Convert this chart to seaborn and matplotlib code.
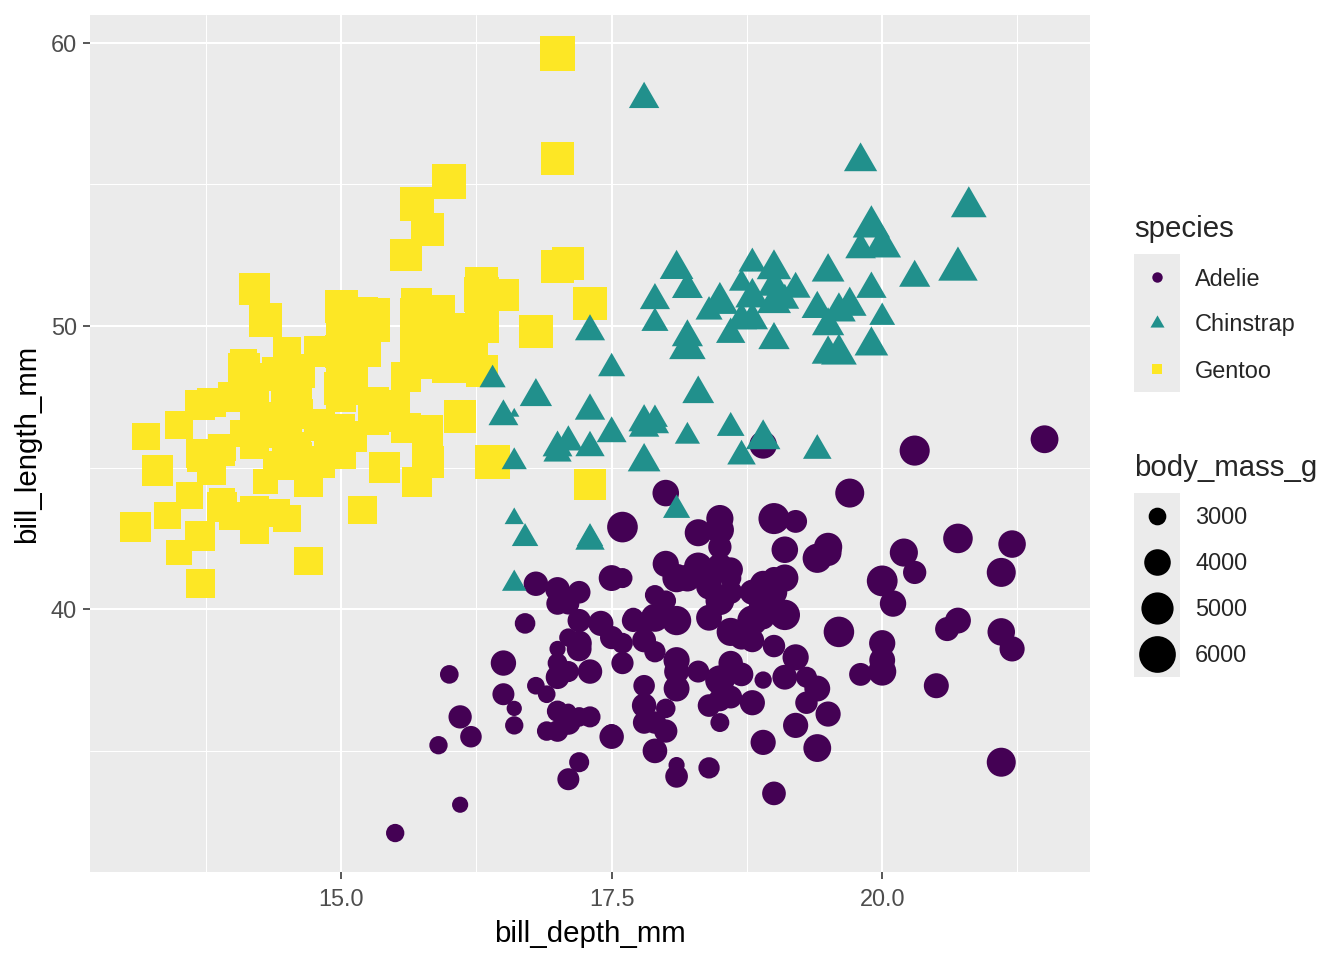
import numpy as np
import pandas as pd
import matplotlib
matplotlib.use("Agg")
import matplotlib.pyplot as plt
import seaborn as sns
from matplotlib.path import Path
from matplotlib.patches import Rectangle

# Data (rows in drawing order)
adelie_length = [
    39.1, 39.5, 40.3, 36.7, 39.3, 38.9, 39.2, 34.1, 42.0, 37.8,
    37.8, 41.1, 38.6, 34.6, 36.6, 38.7, 42.5, 34.4, 46.0, 37.8,
    37.7, 35.9, 38.2, 38.8, 35.3, 40.6, 40.5, 37.9, 40.5, 39.5,
    37.2, 39.5, 40.9, 36.4, 39.2, 38.8, 42.2, 37.6, 39.8, 36.5,
    40.8, 36.0, 44.1, 37.0, 39.6, 41.1, 37.5, 36.0, 42.3, 39.6,
    40.1, 35.0, 42.0, 34.5, 41.4, 39.0, 40.6, 36.5, 37.6, 35.7,
    41.3, 37.6, 41.1, 36.4, 41.6, 35.5, 41.1, 35.9, 41.8, 33.5,
    39.7, 39.6, 45.8, 35.5, 42.8, 40.9, 37.2, 36.2, 42.1, 34.6,
    42.9, 36.7, 35.1, 37.3, 41.3, 36.3, 36.9, 38.3, 38.9, 35.7,
    41.1, 34.0, 39.6, 36.2, 40.8, 38.1, 40.3, 33.1, 43.2, 35.0,
    41.0, 37.7, 37.8, 37.9, 39.7, 38.6, 38.2, 38.1, 43.2, 38.1,
    45.6, 39.7, 42.2, 39.6, 42.7, 38.6, 37.3, 35.7, 41.1, 36.2,
    37.7, 40.2, 41.4, 35.2, 40.6, 38.8, 41.5, 39.0, 44.1, 38.5,
    43.1, 36.8, 37.5, 38.1, 41.1, 35.6, 40.2, 37.0, 39.7, 40.2,
    40.6, 32.1, 40.7, 37.3, 39.0, 39.2, 36.6, 36.0, 37.8, 36.0,
    41.5]
adelie_depth = [
    18.7, 17.4, 18.0, 19.3, 20.6, 17.8, 19.6, 18.1, 20.2, 17.1,
    17.3, 17.6, 21.2, 21.1, 17.8, 19.0, 20.7, 18.4, 21.5, 18.3,
    18.7, 19.2, 18.1, 17.2, 18.9, 18.6, 17.9, 18.6, 18.9, 16.7,
    18.1, 17.8, 18.9, 17.0, 21.1, 20.0, 18.5, 19.3, 19.1, 18.0,
    18.4, 18.5, 19.7, 16.9, 18.8, 19.0, 18.9, 17.9, 21.2, 17.7,
    18.9, 17.9, 19.5, 18.1, 18.6, 17.5, 18.8, 16.6, 19.1, 16.9,
    21.1, 17.0, 18.2, 17.1, 18.0, 16.2, 19.1, 16.6, 19.4, 19.0,
    18.4, 17.2, 18.9, 17.5, 18.5, 16.8, 19.4, 16.1, 19.1, 17.2,
    17.6, 18.8, 19.4, 17.8, 20.3, 19.5, 18.6, 19.2, 18.8, 18.0,
    18.1, 17.1, 18.1, 17.3, 18.9, 18.6, 18.5, 16.1, 18.5, 17.9,
    20.0, 16.0, 20.0, 18.6, 18.9, 17.2, 20.0, 17.0, 19.0, 16.5,
    20.3, 17.7, 19.5, 20.7, 18.3, 17.0, 20.5, 17.0, 18.6, 17.2,
    19.8, 17.0, 18.5, 15.9, 19.0, 17.6, 18.3, 17.1, 18.0, 17.9,
    19.2, 18.5, 18.5, 17.6, 17.5, 17.5, 20.1, 16.5, 17.9, 17.1,
    17.2, 15.5, 17.0, 16.8, 18.7, 18.6, 18.4, 17.8, 18.1, 17.1,
    18.5]
adelie_mass = [
    3750, 3800, 3250, 3450, 3650, 3625, 4675, 3475, 4250, 3300,
    3700, 3200, 3800, 4400, 3700, 3450, 4500, 3325, 4200, 3400,
    3600, 3800, 3950, 3800, 3800, 3550, 3200, 3150, 3950, 3250,
    3900, 3300, 3900, 3325, 4150, 3950, 3550, 3300, 4650, 3150,
    3900, 3100, 4400, 3000, 4600, 3425, 2975, 3450, 4150, 3500,
    4300, 3450, 4050, 2900, 3700, 3550, 3800, 2850, 3750, 3150,
    4400, 3600, 4050, 2850, 3950, 3350, 4100, 3050, 4450, 3600,
    3900, 3550, 4150, 3700, 4250, 3700, 3900, 3550, 4000, 3200,
    4700, 3800, 4200, 3350, 3550, 3800, 3500, 3950, 3600, 3550,
    4300, 3400, 4450, 3300, 4300, 3700, 4350, 2900, 4100, 3725,
    4725, 3075, 4250, 2925, 3550, 3750, 3900, 3175, 4775, 3825,
    4600, 3200, 4275, 3900, 4075, 2900, 3775, 3350, 3325, 3150,
    3500, 3450, 3875, 3050, 4000, 3275, 4300, 3050, 4000, 3325,
    3500, 3500, 4475, 3425, 3900, 3175, 3975, 3400, 4250, 3400,
    3475, 3050, 3725, 3000, 3650, 4250, 3475, 3450, 3750, 3700,
    4000]

gentoo_length = [
    46.1, 50.0, 48.7, 50.0, 47.6, 46.5, 45.4, 46.7, 43.3, 46.8,
    40.9, 49.0, 45.5, 48.4, 45.8, 49.3, 42.0, 49.2, 46.2, 48.7,
    50.2, 45.1, 46.5, 46.3, 42.9, 46.1, 44.5, 47.8, 48.2, 50.0,
    47.3, 42.8, 45.1, 59.6, 49.1, 48.4, 42.6, 44.4, 44.0, 48.7,
    42.7, 49.6, 45.3, 49.6, 50.5, 43.6, 45.5, 50.5, 44.9, 45.2,
    46.6, 48.5, 45.1, 50.1, 46.5, 45.0, 43.8, 45.5, 43.2, 50.4,
    45.3, 46.2, 45.7, 54.3, 45.8, 49.8, 46.2, 49.5, 43.5, 50.7,
    47.7, 46.4, 48.2, 46.5, 46.4, 48.6, 47.5, 51.1, 45.2, 45.2,
    49.1, 52.5, 47.4, 50.0, 44.9, 50.8, 43.4, 51.3, 47.5, 52.1,
    47.5, 52.2, 45.5, 49.5, 44.5, 50.8, 49.4, 46.9, 48.4, 51.1,
    48.5, 55.9, 47.2, 49.1, 47.3, 46.8, 41.7, 53.4, 43.3, 48.1,
    50.5, 49.8, 43.5, 51.5, 46.2, 55.1, 44.5, 48.8, 47.2, 46.8,
    50.4, 45.2, 49.9]
gentoo_depth = [
    13.2, 16.3, 14.1, 15.2, 14.5, 13.5, 14.6, 15.3, 13.4, 15.4,
    13.7, 16.1, 13.7, 14.6, 14.6, 15.7, 13.5, 15.2, 14.5, 15.1,
    14.3, 14.5, 14.5, 15.8, 13.1, 15.1, 14.3, 15.0, 14.3, 15.3,
    15.3, 14.2, 14.5, 17.0, 14.8, 16.3, 13.7, 17.3, 13.6, 15.7,
    13.7, 16.0, 13.7, 15.0, 15.9, 13.9, 13.9, 15.9, 13.3, 15.8,
    14.2, 14.1, 14.4, 15.0, 14.4, 15.4, 13.9, 15.0, 14.5, 15.3,
    13.8, 14.9, 13.9, 15.7, 14.2, 16.8, 14.4, 16.2, 14.2, 15.0,
    15.0, 15.6, 15.6, 14.8, 15.0, 16.0, 14.2, 16.3, 13.8, 16.4,
    14.5, 15.6, 14.6, 15.9, 13.8, 17.3, 14.4, 14.2, 14.0, 17.0,
    15.0, 17.1, 14.5, 16.1, 14.7, 15.7, 15.8, 14.6, 14.4, 16.5,
    15.0, 17.0, 15.5, 15.0, 13.8, 16.1, 14.7, 15.8, 14.0, 15.1,
    15.2, 15.9, 15.2, 16.3, 14.1, 16.0, 15.7, 16.2, 13.7, 14.3,
    15.7, 14.8, 16.1]
gentoo_mass = [
    4500, 5700, 4450, 5700, 5400, 4550, 4800, 5200, 4400, 5150,
    4650, 5550, 4650, 5850, 4200, 5850, 4150, 6300, 4800, 5350,
    5700, 5000, 4400, 5050, 5000, 5100, 4100, 5650, 4600, 5550,
    5250, 4700, 5050, 6050, 5150, 5400, 4950, 5250, 4350, 5350,
    3950, 5700, 4300, 4750, 5550, 4900, 4200, 5400, 5100, 5300,
    4850, 5300, 4400, 5000, 4900, 5050, 4300, 5000, 4450, 5550,
    4200, 5300, 4400, 5650, 4700, 5700, 4650, 5800, 4700, 5550,
    4750, 5000, 5100, 5200, 4700, 5800, 4600, 6000, 4750, 5950,
    4625, 5450, 4725, 5350, 4750, 5600, 4600, 5300, 4875, 5550,
    4950, 5400, 4750, 5650, 4850, 5200, 4925, 4875, 4625, 5250,
    4850, 5600, 4975, 5500, 4725, 5500, 4700, 5500, 4575, 5500,
    5000, 5950, 4650, 5500, 4375, 5850, 4875, 6000, 4925, 4850,
    5750, 5200, 5400]

chinstrap_length = [
    46.5, 50.0, 51.3, 45.4, 52.7, 45.2, 46.1, 51.3, 46.0, 51.3,
    46.6, 51.7, 47.0, 52.0, 45.9, 50.5, 50.3, 58.0, 46.4, 49.2,
    42.4, 48.5, 43.2, 50.6, 46.7, 52.0, 50.5, 49.5, 46.4, 52.8,
    40.9, 54.2, 42.5, 51.0, 49.7, 47.5, 47.6, 52.0, 46.9, 53.5,
    49.0, 46.2, 50.9, 45.5, 50.9, 50.8, 50.1, 49.0, 51.5, 49.8,
    48.1, 51.4, 45.7, 50.7, 42.5, 52.2, 45.2, 49.3, 50.2, 45.6,
    51.9, 46.8, 45.7, 55.8, 43.5, 49.6, 50.8, 50.2]
chinstrap_depth = [
    17.9, 19.5, 19.2, 18.7, 19.8, 17.8, 18.2, 18.2, 18.9, 19.9,
    17.8, 20.3, 17.3, 18.1, 17.1, 19.6, 20.0, 17.8, 18.6, 18.2,
    17.3, 17.5, 16.6, 19.4, 17.9, 19.0, 18.4, 19.0, 17.8, 20.0,
    16.6, 20.8, 16.7, 18.8, 18.6, 16.8, 18.3, 20.7, 16.6, 19.9,
    19.5, 17.5, 19.1, 17.0, 17.9, 18.5, 17.9, 19.6, 18.7, 17.3,
    16.4, 19.0, 17.3, 19.7, 17.3, 18.8, 16.6, 19.9, 18.8, 19.4,
    19.5, 16.5, 17.0, 19.8, 18.1, 18.2, 19.0, 18.7]
chinstrap_mass = [
    3500, 3900, 3650, 3525, 3725, 3950, 3250, 3750, 4150, 3700,
    3800, 3775, 3700, 4050, 3575, 4050, 3300, 3700, 3450, 4400,
    3600, 3400, 2900, 3800, 3300, 4150, 3400, 3800, 3700, 4550,
    3200, 4300, 3350, 4100, 3600, 3900, 3850, 4800, 2700, 4500,
    3950, 3650, 3550, 3500, 3675, 4450, 3400, 4300, 3250, 3675,
    3325, 3950, 3600, 4050, 3350, 3450, 3250, 4050, 3800, 3525,
    3950, 3650, 3650, 4000, 3400, 3775, 4100, 3775]

species_names = ["Adelie", "Chinstrap", "Gentoo"]
draw_order = ["Adelie", "Gentoo", "Chinstrap"]
mass_breaks = [3000, 4000, 5000, 6000]

frames = []
for name, ln, dp, ms in [("Adelie", adelie_length, adelie_depth, adelie_mass),
                         ("Gentoo", gentoo_length, gentoo_depth, gentoo_mass),
                         ("Chinstrap", chinstrap_length, chinstrap_depth, chinstrap_mass)]:
    frames.append(pd.DataFrame({"species": name, "bill_length_mm": ln,
                                "bill_depth_mm": dp, "body_mass_g": ms}))
df = pd.concat(frames, ignore_index=True)

# Styling
colors = {"Adelie": "#440154", "Chinstrap": "#21908C", "Gentoo": "#FDE725"}
tri = Path([(0, 1.5551), (1.3468, -0.7776), (-1.3468, -0.7776), (0, 1.5551)],
           [Path.MOVETO, Path.LINETO, Path.LINETO, Path.CLOSEPOLY])
markers = {"Adelie": "o", "Chinstrap": tri, "Gentoo": "s"}
marker_scale = {"Adelie": 0.75, "Chinstrap": 2 * 0.375 * 1.5551, "Gentoo": 0.75}

PT = 72.27 / 25.4
mass_lo, mass_hi = df.body_mass_g.min(), df.body_mass_g.max()


def gg_fontsize(mass):
    size = 1 + 5 * np.sqrt((mass - mass_lo) / (mass_hi - mass_lo))
    return size * PT + 0.5 * (96 / 25.4) / 2


def marker_area(mass, sp):
    return (marker_scale[sp] * gg_fontsize(mass)) ** 2


sns.set_style("darkgrid", {"axes.facecolor": "#EBEBEB", "grid.color": "white"})
plt.rcParams["font.family"] = ["Liberation Sans", "DejaVu Sans"]

fig = plt.figure(figsize=(7, 5), dpi=192)
W, H = 1344, 960
ax = fig.add_axes([90 / W, 1 - 872 / H, 1000 / W, 857 / H])

for sp in draw_order:
    sub = df[df.species == sp]
    sizes = {m: marker_area(m, sp) for m in sub.body_mass_g.unique()}
    sns.scatterplot(data=sub, x="bill_depth_mm", y="bill_length_mm",
                    size="body_mass_g", sizes=sizes, marker=markers[sp],
                    color=colors[sp], edgecolor=colors[sp],
                    linewidth=0.7 if sp == "Adelie" else 0,
                    legend=False, ax=ax, zorder=3)

# ggplot-like axes
xr = df.bill_depth_mm.max() - df.bill_depth_mm.min()
yr = df.bill_length_mm.max() - df.bill_length_mm.min()
ax.set_xlim(df.bill_depth_mm.min() - 0.05 * xr, df.bill_depth_mm.max() + 0.05 * xr)
ax.set_ylim(df.bill_length_mm.min() - 0.05 * yr, df.bill_length_mm.max() + 0.05 * yr)
ax.set_xticks([15.0, 17.5, 20.0])
ax.set_xticklabels(["15.0", "17.5", "20.0"])
ax.set_yticks([40, 50, 60])
ax.set_xticks([13.75, 16.25, 18.75, 21.25], minor=True)
ax.set_yticks([35, 45, 55], minor=True)
ax.grid(which="major", color="white", linewidth=0.75)
ax.grid(which="minor", color="white", linewidth=0.38)
ax.set_axisbelow(True)
for s in ax.spines.values():
    s.set_visible(False)
ax.tick_params(which="major", length=2.75, width=0.6, color="#333333",
               labelcolor="#4D4D4D", labelsize=8.8, pad=2.2,
               bottom=True, left=True)
ax.tick_params(axis="x", which="major", pad=3.3)
ax.tick_params(which="minor", length=0)
ax.set_xlabel("bill_depth_mm", fontsize=11, color="black", labelpad=3.5)
ax.set_ylabel("bill_length_mm", fontsize=11, color="black", labelpad=3.5)

# Legends drawn in pixel space
lax = fig.add_axes([0, 0, 1, 1], facecolor="none")
lax.set_xlim(0, W)
lax.set_ylim(H, 0)
lax.axis("off")

key_x, key_w, key_h = 1134, 46, 46
lax.text(key_x, 229, "species", fontsize=11, va="center", ha="left")
top = 254
lax.add_patch(Rectangle((key_x, top), key_w, key_h * len(species_names),
                        facecolor="#EBEBEB", edgecolor="none"))
small_fs = 1.5 * PT + 0.5 * (96 / 25.4) / 2
for i, sp in enumerate(species_names):
    cy = top + key_h * (i + 0.5)
    lax.scatter([key_x + key_w / 2], [cy], marker=markers[sp],
                s=(marker_scale[sp] * small_fs) ** 2, color=colors[sp],
                linewidths=0)
    lax.text(1195, cy + 2, sp, fontsize=8.8, va="center", ha="left")

lax.text(key_x, 468, "body_mass_g", fontsize=11, va="center", ha="left")
top = 493
lax.add_patch(Rectangle((key_x, top), key_w, key_h * len(mass_breaks),
                        facecolor="#EBEBEB", edgecolor="none"))
for i, m in enumerate(mass_breaks):
    cy = top + key_h * (i + 0.5)
    lax.scatter([key_x + key_w / 2], [cy], marker="o",
                s=marker_area(m, "Adelie"), color="black", linewidths=0.7,
                edgecolors="black")
    lax.text(1195, cy + 2, str(m), fontsize=8.8, va="center", ha="left")

fig.savefig("out.png", dpi=192)
